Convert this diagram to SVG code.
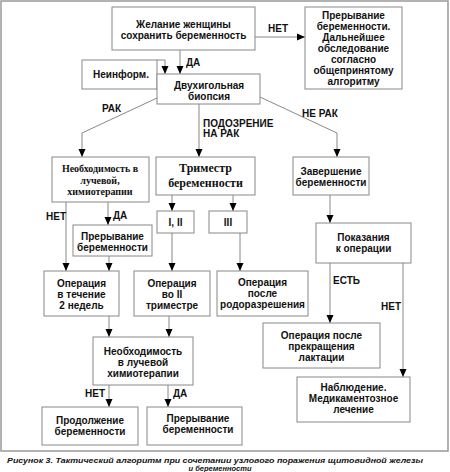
<svg xmlns="http://www.w3.org/2000/svg" width="450" height="472" viewBox="0 0 450 472">
<defs>
<marker id="ah" viewBox="0 0 8 8" refX="8" refY="4" markerWidth="8" markerHeight="8" markerUnits="userSpaceOnUse" orient="auto">
<path d="M0,0.5 L8,4 L0,7.5 Z" fill="#000"/>
</marker>
<style>
.b{fill:#fff;stroke:#888;stroke-width:1}
.t{font-family:"Liberation Sans",Arial,sans-serif;font-weight:bold;font-size:10px;fill:#111;text-anchor:middle}
.s{font-family:"Liberation Serif","Times New Roman",serif;font-weight:bold;font-size:10px;fill:#111;text-anchor:middle}
.l{font-family:"Liberation Sans",Arial,sans-serif;font-weight:bold;font-size:10px;fill:#111}
.c{fill:none;stroke:#888;stroke-width:1}
.a{fill:none;stroke:#888;stroke-width:1;marker-end:url(#ah)}
.cap{font-family:"Liberation Sans",Arial,sans-serif;font-weight:bold;font-style:italic;font-size:7.5px;fill:#111;text-anchor:middle}
</style>
</defs>
<rect x="1" y="1" width="447" height="450" fill="#fff" stroke="#999" stroke-width="1.5"/>

<g id="connectors">
<path class="a" d="M255,37 H305"/>
<path class="a" d="M180,50 V74"/>
<path class="a" d="M157,60 H165 V74"/>
<path class="a" d="M157,98 L82,133 V157"/>
<path class="a" d="M199,104 V157"/>
<path class="a" d="M260,97 L337,133 V157"/>
<path class="a" d="M172,195 V211"/>
<path class="a" d="M233,195 V211"/>
<path class="a" d="M66,202 V271"/>
<path class="a" d="M108,202 V225"/>
<path class="a" d="M109,256 V271"/>
<path class="a" d="M172,233 V271"/>
<path class="a" d="M240,233 V271"/>
<path class="a" d="M330,195 V223"/>
<path class="a" d="M330,263 V323"/>
<path class="a" d="M403,263 V377"/>
<path class="a" d="M109,316 V337"/>
<path class="a" d="M169,316 V337"/>
<path class="a" d="M109,385 V407"/>
<path class="a" d="M168,385 V407"/>
<text class="l" x="268" y="31.5">НЕТ</text>
<text class="l" x="186" y="65.5">ДА</text>
<text class="l" x="102" y="111.5">РАК</text>
<text class="l" x="203" y="126.5">ПОДОЗРЕНИЕ</text>
<text class="l" x="203" y="137">НА РАК</text>
<text class="l" x="302" y="116.5">НЕ РАК</text>
<text class="l" x="46" y="220">НЕТ</text>
<text class="l" x="113" y="219">ДА</text>
<text class="l" x="333" y="283.5">ЕСТЬ</text>
<text class="l" x="381" y="309.5">НЕТ</text>
<text class="l" x="85" y="396.5">НЕТ</text>
<text class="l" x="173" y="396.5">ДА</text>
</g>

<g id="n1"><rect class="b" x="112" y="7" width="143" height="43"/>
<text class="t" x="183.5" y="28">Желание женщины</text>
<text class="t" x="183.5" y="38.5">сохранить беременность</text></g>

<g id="n2"><rect class="b" x="305" y="7" width="97" height="82"/>
<text class="t" x="353.5" y="18.5">Прерывание</text>
<text class="t" x="353.5" y="29.5">беременности.</text>
<text class="t" x="353.5" y="40.5">Дальнейшее</text>
<text class="t" x="353.5" y="51.5">обследование</text>
<text class="t" x="353.5" y="62.5">согласно</text>
<text class="t" x="353.5" y="73.5">общепринятому</text>
<text class="t" x="353.5" y="84.5">алгоритму</text></g>

<g id="n3"><rect class="b" x="82" y="60" width="75" height="29"/>
<text class="t" x="121" y="78">Неинформ.</text></g>

<g id="n4"><rect class="b" x="157" y="74" width="103" height="30"/>
<text class="t" x="209" y="88.5">Двухигольная</text>
<text class="t" x="209" y="100">биопсия</text></g>

<g id="n5"><rect class="b" x="52" y="157" width="97" height="45"/>
<text class="s" x="100" y="172">Необходимость в</text>
<text class="s" x="100" y="183.5">лучевой,</text>
<text class="s" x="100" y="194.5">химиотерапии</text></g>

<g id="n6"><rect class="b" x="156" y="157" width="99" height="38"/>
<text class="s" x="205.5" y="172" style="font-size:12px">Триместр</text>
<text class="s" x="205.5" y="187" style="font-size:12px">беременности</text></g>

<g id="n7"><rect class="b" x="293" y="157" width="76" height="38"/>
<text class="t" x="331" y="174.5">Завершение</text>
<text class="t" x="331" y="185.5">беременности</text></g>

<g id="n8"><rect class="b" x="73" y="225" width="79" height="31"/>
<text class="t" x="112.5" y="239.5">Прерывание</text>
<text class="t" x="112.5" y="250.5">беременности</text></g>

<g id="n9"><rect class="b" x="157" y="211" width="37" height="22"/>
<text class="t" x="175.5" y="225.5">I, II</text></g>

<g id="n10"><rect class="b" x="209" y="211" width="38" height="22"/>
<text class="t" x="228" y="225.5">III</text></g>

<g id="n11"><rect class="b" x="316" y="223" width="95" height="40"/>
<text class="t" x="363.5" y="240.5">Показания</text>
<text class="t" x="363.5" y="251.5">к операции</text></g>

<g id="n12"><rect class="b" x="44" y="271" width="75" height="45"/>
<text class="t" x="81.5" y="286.5">Операция</text>
<text class="t" x="81.5" y="297.5">в течение</text>
<text class="t" x="81.5" y="308.5">2 недель</text></g>

<g id="n13"><rect class="b" x="134" y="271" width="76" height="45"/>
<text class="t" x="172" y="286.5">Операция</text>
<text class="t" x="172" y="297.5">во II</text>
<text class="t" x="172" y="308.5">триместре</text></g>

<g id="n14"><rect class="b" x="217" y="271" width="91" height="45"/>
<text class="t" x="262.5" y="286">Операция</text>
<text class="t" x="262.5" y="297">после</text>
<text class="t" x="262.5" y="308">родоразрешения</text></g>

<g id="n15"><rect class="b" x="263" y="323" width="117" height="45"/>
<text class="t" x="321.5" y="339">Операция после</text>
<text class="t" x="321.5" y="350">прекращения</text>
<text class="t" x="321.5" y="361">лактации</text></g>

<g id="n16"><rect class="b" x="93" y="337" width="100" height="48"/>
<text class="t" x="143" y="354.5">Необходимость</text>
<text class="t" x="143" y="365.5">в лучевой</text>
<text class="t" x="143" y="376.5">химиотерапии</text></g>

<g id="n17"><rect class="b" x="297" y="377" width="113" height="45"/>
<text class="t" x="353.5" y="390.5">Наблюдение.</text>
<text class="t" x="353.5" y="401.5">Медикаментозное</text>
<text class="t" x="353.5" y="412.5">лечение</text></g>

<g id="n18"><rect class="b" x="42" y="407" width="96" height="38"/>
<text class="t" x="90" y="423.5">Продолжение</text>
<text class="t" x="90" y="434.5">беременности</text></g>

<g id="n19"><rect class="b" x="147" y="407" width="95" height="38"/>
<text class="t" x="198" y="422">Прерывание</text>
<text class="t" x="198" y="433">беременности</text></g>

<text class="cap" x="215" y="463" textLength="416" lengthAdjust="spacingAndGlyphs">Рисунок 3. Тактический алгоритм при сочетании узлового поражения щитовидной железы</text>
<text class="cap" x="220" y="471">и беременности</text>
</svg>
